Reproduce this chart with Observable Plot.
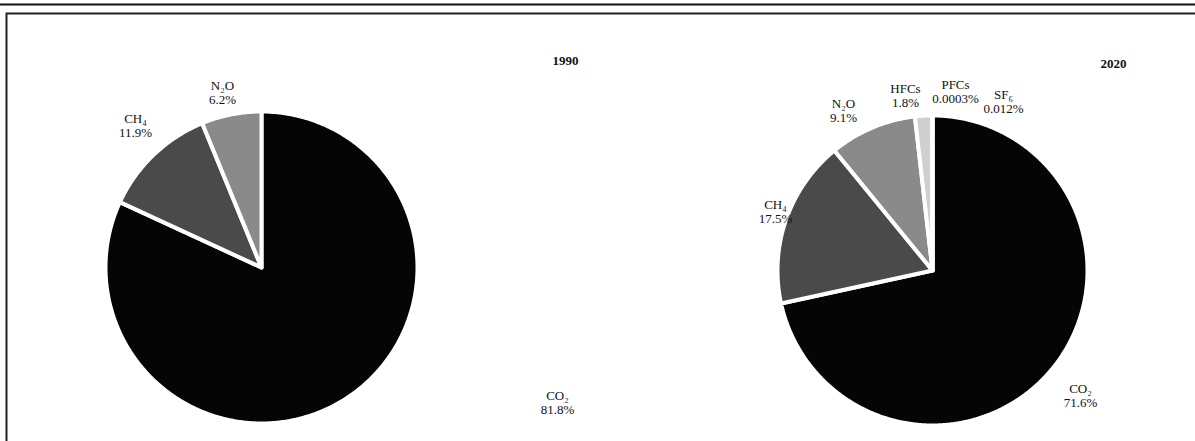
<!DOCTYPE html>
<html><head><meta charset="utf-8">
<script src="https://cdn.jsdelivr.net/npm/d3@7"></script>
<script src="https://cdn.jsdelivr.net/npm/@observablehq/plot@0.6"></script>
<style>body{margin:0;background:#fff;overflow:hidden}</style>
</head><body><div id="chart"></div>
<script>
// ---- data ----
const years = ["1990", "2020"];
const gases1990 = ["CO₂", "CH₄", "N₂O"];
const values1990 = [81.8, 11.9, 6.2];
const labels1990 = ["81.8%", "11.9%", "6.2%"];
const gases2020 = ["CO₂", "CH₄", "N₂O", "HFCs", "PFCs", "SF₆"];
const values2020 = [71.6, 17.5, 9.1, 1.8, 0.0003, 0.012];
const labels2020 = ["71.6%", "17.5%", "9.1%", "1.8%", "0.0003%", "0.012%"];

// ---- layout (pixel space) ----
const W = 1195, H = 441;
const pieGeom = {"1990": {cx: 261, cy: 267, r: 156}, "2020": {cx: 932, cy: 270, r: 155}};
const labelPos = {
  "1990": [[557, 402], [135, 125], [222, 92]],
  "2020": [[1080, 395], [775, 211], [843, 110], [905, 95], [955, 91], [1003, 101]]
};
const titlePos = {"1990": [565, 60], "2020": [1113, 63]};
const gasColors = {"CO₂": "#050505", "CH₄": "#4a4a4a", "N₂O": "#8a8a8a", "HFCs": "#cfcfcf", "PFCs": "#e6e6e6", "SF₆": "#e6e6e6"};

const series = {"1990": [gases1990, values1990, labels1990], "2020": [gases2020, values2020, labels2020]};

const slicePts = [];
const labelRows = [];
for (const yr of years) {
  const [gases, values, labels] = series[yr];
  const g = pieGeom[yr];
  const arcs = d3.pie().sort(null).value(d => d)(values);
  arcs.forEach((a, i) => {
    const id = yr + "-" + gases[i];
    slicePts.push({id, gas: gases[i], x: g.cx, y: g.cy});
    const n = Math.max(2, Math.ceil((a.endAngle - a.startAngle) / 0.01));
    for (let k = 0; k <= n; k++) {
      const t = a.startAngle + (a.endAngle - a.startAngle) * k / n;
      slicePts.push({id, gas: gases[i], x: g.cx + g.r * Math.sin(t), y: g.cy - g.r * Math.cos(t)});
    }
    const [lx, ly] = labelPos[yr][i];
    labelRows.push({x: lx, y: ly, text: gases[i] + "\n" + labels[i]});
  });
}
const titleRows = years.map(yr => ({x: titlePos[yr][0], y: titlePos[yr][1], text: yr}));

const chart = Plot.plot({
  width: W, height: H,
  margin: 0,
  x: {domain: [0, W], range: [0, W], axis: null},
  y: {domain: [0, H], range: [0, H], axis: null},
  color: {domain: Object.keys(gasColors), range: Object.values(gasColors)},
  style: {background: "#fff", fontFamily: "'Liberation Serif', 'DejaVu Serif', serif"},
  marks: [
    Plot.frame({anchor: "top", insetTop: 4, stroke: "#111", strokeWidth: 2}),
    Plot.frame({insetLeft: 6, insetTop: 13, insetRight: -10, insetBottom: -10, stroke: "#222", strokeWidth: 2}),
    Plot.line(slicePts, {x: "x", y: "y", z: "id", fill: "gas", stroke: "white", strokeWidth: 4, strokeLinejoin: "round", curve: "linear-closed"}),
    Plot.text(labelRows, {x: "x", y: "y", text: "text", fontSize: 13, lineHeight: 1.05, fill: "#111"}),
    Plot.text(titleRows, {x: "x", y: "y", text: "text", fontSize: 13, fontWeight: "bold", fill: "#111"})
  ]
});
document.getElementById("chart").appendChild(chart);
</script>
</body></html>
